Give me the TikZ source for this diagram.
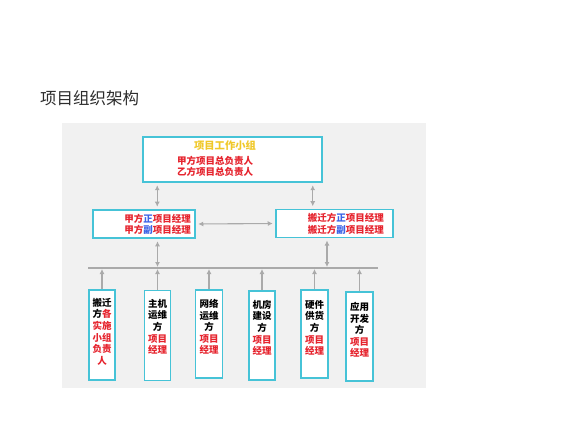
\documentclass[tikz,border=0pt]{standalone}
\usepackage{fontspec}
\setmainfont{Noto Sans CJK SC}
\usetikzlibrary{arrows.meta}
\definecolor{bx}{RGB}{70,195,215}
\definecolor{rd}{RGB}{230,35,45}
\definecolor{bl}{RGB}{60,100,230}
\definecolor{yl}{RGB}{240,200,40}
\definecolor{ar}{RGB}{170,170,170}
\definecolor{panel}{RGB}{241,241,241}
\newcommand{\R}[1]{\textcolor{rd}{#1}}
\newcommand{\B}[1]{\textcolor{bl}{#1}}
\begin{document}
\begin{tikzpicture}[x=1pt,y=-1pt,
  box/.style={draw=bx,line width=1.5pt,fill=white,inner sep=0pt},
  lbl/.style={font=\fontsize{9.5}{11.6}\selectfont\bfseries,inner sep=0pt,align=center},
  conn/.style={draw=ar,line width=1.1pt},
  tip/.tip={Latex[length=5pt,width=5pt]},
  dbl/.style={conn,tip-tip,shorten >=2.5pt,shorten <=2.5pt},
  upar/.style={conn,-tip}]
\fill[white] (0,0) rectangle (588,438);
\useasboundingbox (0,0) rectangle (588,438);
\fill[panel] (62,123) rectangle (426,388);
% title
\node[anchor=west,inner sep=0pt,font=\fontsize{16.5}{18}\selectfont,text={rgb,255:red,45;green,45;blue,45}] (title) at (40,98) {项目组织架构};
% top box
\node[box,minimum width=179pt,minimum height=45pt] (top) at (232.5,159.5) {};
\node[lbl,font=\fontsize{10.3}{12}\selectfont\bfseries,text=yl] (topt) at (225,146) {项目工作小组};
\node[lbl,anchor=west,align=left,text=rd] (topr) at (177,166.5) {甲方项目总负责人\\乙方项目总负责人};
% middle boxes
\node[box,minimum width=102pt,minimum height=28pt] (m1) at (144,224) {};
\node[lbl,anchor=east,align=right] (m1t) at (191,224.5) {\R{甲方}\B{正}\R{项目经理}\\\R{甲方}\B{副}\R{项目经理}};
\node[box,minimum width=117pt,minimum height=28pt] (m2) at (334.5,223.5) {};
\node[lbl,anchor=east,align=right] (m2t) at (384,224) {\R{搬迁方}\B{正}\R{项目经理}\\\R{搬迁方}\B{副}\R{项目经理}};
% bus
\coordinate (busL) at (88,268);
\coordinate (busR) at (378,268);
\draw[conn] (busL) -- (busR);
% bottom boxes
\node[box,minimum width=26pt,minimum height=90pt] (b1) at (102,335) {};
\node[box,minimum width=26pt,minimum height=90pt] (b2) at (157.5,335.5) {};
\node[box,minimum width=27pt,minimum height=88pt] (b3) at (209,334) {};
\node[box,minimum width=26pt,minimum height=89pt] (b4) at (262,335.5) {};
\node[box,minimum width=27pt,minimum height=88pt] (b5) at (314.5,334) {};
\node[box,minimum width=27pt,minimum height=89pt] (b6) at (359.5,336.5) {};
\node[lbl,anchor=north] (b1t) at (102,298) {搬迁\\方\R{各}\\\R{实施}\\\R{小组}\\\R{负责}\\\R{人}};
\node[lbl,anchor=north] (b2t) at (157.5,299) {主机\\运维\\方\\\R{项目}\\\R{经理}};
\node[lbl,anchor=north] (b3t) at (209,299) {网络\\运维\\方\\\R{项目}\\\R{经理}};
\node[lbl,anchor=north] (b4t) at (262,300) {机房\\建设\\方\\\R{项目}\\\R{经理}};
\node[lbl,anchor=north] (b5t) at (314.5,300) {硬件\\供货\\方\\\R{项目}\\\R{经理}};
\node[lbl,anchor=north] (b6t) at (359.5,302) {应用\\开发\\方\\\R{项目}\\\R{经理}};
% connectors
\draw[dbl] ([xshift=15pt]top.south west) -- ([xshift=15pt]top.south west |- m1.north);
\draw[dbl] ([xshift=-10pt]top.south east) -- ([xshift=-10pt]top.south east |- m2.north);
\draw[dbl] (m1.east) -- (m2.west);
\draw[dbl,shorten >=1pt] (m1.south -| b2.north) -- (busL -| b2.north);
\coordinate (m2s) at (327,238);
\draw[dbl,shorten >=1pt] (m2s) -- (busL -| m2s);
\foreach \b in {b1,b2,b3,b4,b5,b6}
  \draw[upar,shorten >=1pt] (\b.north) -- (busL -| \b.north);
\end{tikzpicture}
\end{document}
